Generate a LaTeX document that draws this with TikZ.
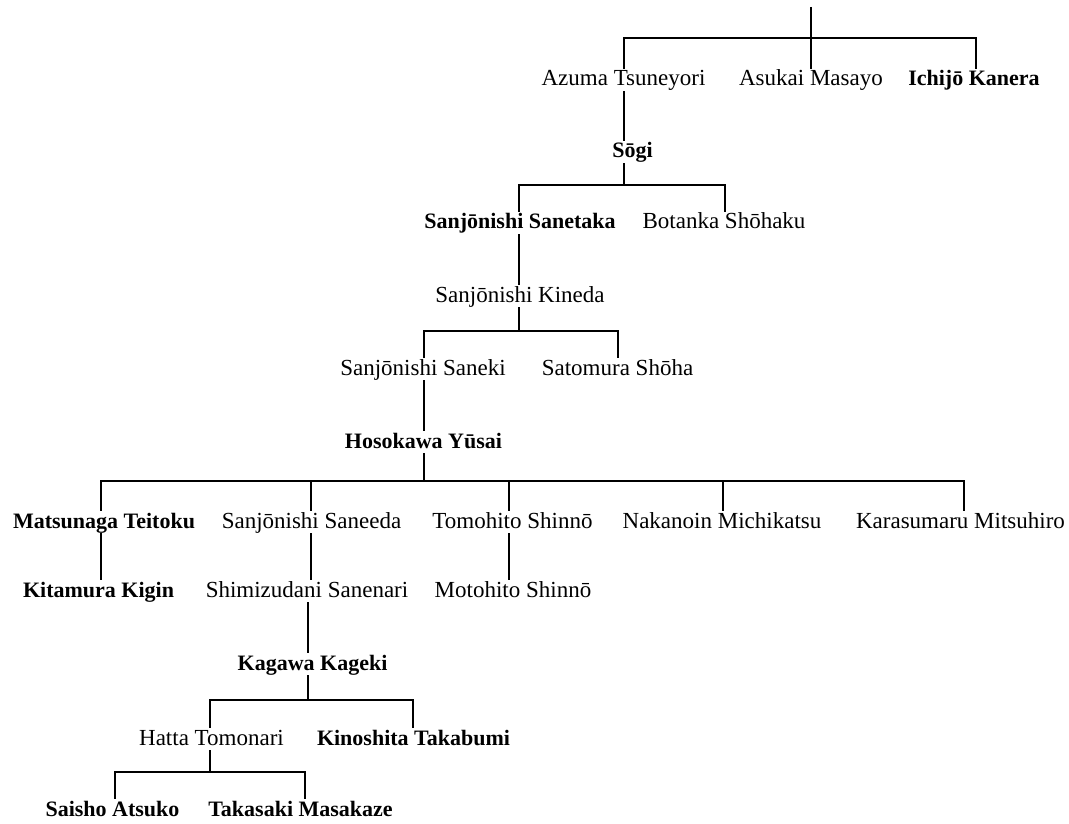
\documentclass[tikz,border=0pt]{standalone}
\usepackage{fontspec}
\setmainfont{Liberation Serif}
\begin{document}
\begin{tikzpicture}[x=1pt,y=-1pt,
  person/.style={anchor=base, inner sep=0pt, text height=17pt, text depth=5pt,
                 font=\fontsize{23}{23}\selectfont},
  poet/.style={person, font=\fontsize{22}{22}\selectfont\bfseries},
  link/.style={line width=2pt, line join=miter}]
\useasboundingbox (0,0) rectangle (1069,824);
% bars (y levels)
\coordinate (bar1) at (0,38);
\coordinate (bar2) at (0,185);
\coordinate (bar3) at (0,331);
\coordinate (bar4) at (0,481);
\coordinate (bar5) at (0,700);
\coordinate (bar6) at (0,772);
% columns (x of vertical lines)
\coordinate (cA) at (624,0);
\coordinate (cB) at (811,0);
\coordinate (cC) at (976,0);
\coordinate (cD) at (519,0);
\coordinate (cE) at (725,0);
\coordinate (cF) at (424,0);
\coordinate (cG) at (618,0);
\coordinate (cH) at (101,0);
\coordinate (cI) at (311,0);
\coordinate (cI2) at (308,0);
\coordinate (cJ) at (509,0);
\coordinate (cK) at (723,0);
\coordinate (cL) at (964,0);
\coordinate (cM) at (210,0);
\coordinate (cN) at (413,0);
\coordinate (cO) at (115,0);
\coordinate (cP) at (305,0);
\coordinate (root) at (811,7);
% people
\node[person] (azuma)      at (623.5,86)  {Azuma Tsuneyori};
\node[person] (asukai)     at (811,86)    {Asukai Masayo};
\node[poet]   (ichijo)     at (974,86)    {Ichijō Kanera};
\node[poet]   (sogi)       at (632.5,158) {Sōgi};
\node[poet]   (sanetaka)   at (520,229)   {Sanjōnishi Sanetaka};
\node[person] (botanka)    at (724,229)   {Botanka Shōhaku};
\node[person] (kineda)     at (520,302)   {Sanjōnishi Kineda};
\node[person] (saneki)     at (423,375)   {Sanjōnishi Saneki};
\node[person] (satomura)   at (617.5,375) {Satomura Shōha};
\node[poet]   (yusai)      at (423.5,448) {Hosokawa Yūsai};
\node[poet]   (matsunaga)  at (104,528)   {Matsunaga Teitoku};
\node[person] (saneeda)    at (311.5,528) {Sanjōnishi Saneeda};
\node[person] (tomohito)   at (512.5,528) {Tomohito Shinnō};
\node[person] (nakanoin)   at (722,528)   {Nakanoin Michikatsu};
\node[person] (karasumaru) at (960.5,528) {Karasumaru Mitsuhiro};
\node[poet]   (kitamura)   at (98.5,597)  {Kitamura Kigin};
\node[person] (shimizudani) at (307,597)  {Shimizudani Sanenari};
\node[person] (motohito)   at (513,597)   {Motohito Shinnō};
\node[poet]   (kagawa)     at (312.5,670) {Kagawa Kageki};
\node[person] (hatta)      at (211.5,745) {Hatta Tomonari};
\node[poet]   (kinoshita)  at (413.5,745) {Kinoshita Takabumi};
\node[poet]   (saisho)     at (112.5,816) {Saisho Atsuko};
\node[poet]   (takasaki)   at (300.5,816) {Takasaki Masakaze};
% connectors
\draw[link] (root) -- (root |- bar1);
\draw[link] (azuma.north -| cA) -- (cA |- bar1) -- (cC |- bar1) -- (ichijo.north -| cC);
\draw[link] (asukai.north -| cB) -- (cB |- bar1);
\draw[link] (azuma.south -| cA) -- (sogi.north -| cA);
\draw[link] (sogi.south -| cA) -- (cA |- bar2);
\draw[link] (sanetaka.north -| cD) -- (cD |- bar2) -- (cE |- bar2) -- (botanka.north -| cE);
\draw[link] (sanetaka.south -| cD) -- (kineda.north -| cD);
\draw[link] (kineda.south -| cD) -- (cD |- bar3);
\draw[link] (saneki.north -| cF) -- (cF |- bar3) -- (cG |- bar3) -- (satomura.north -| cG);
\draw[link] (saneki.south -| cF) -- (yusai.north -| cF);
\draw[link] (yusai.south -| cF) -- (cF |- bar4);
\draw[link] (matsunaga.north -| cH) -- (cH |- bar4) -- (cL |- bar4) -- (karasumaru.north -| cL);
\draw[link] (saneeda.north -| cI) -- (cI |- bar4);
\draw[link] (tomohito.north -| cJ) -- (cJ |- bar4);
\draw[link] (nakanoin.north -| cK) -- (cK |- bar4);
\draw[link] (matsunaga.south -| cH) -- (kitamura.north -| cH);
\draw[link] (saneeda.south -| cI) -- (shimizudani.north -| cI);
\draw[link] (tomohito.south -| cJ) -- (motohito.north -| cJ);
\draw[link] (shimizudani.south -| cI2) -- (kagawa.north -| cI2);
\draw[link] (kagawa.south -| cI2) -- (cI2 |- bar5);
\draw[link] (hatta.north -| cM) -- (cM |- bar5) -- (cN |- bar5) -- (kinoshita.north -| cN);
\draw[link] (hatta.south -| cM) -- (cM |- bar6);
\draw[link] (saisho.north -| cO) -- (cO |- bar6) -- (cP |- bar6) -- (takasaki.north -| cP);
\end{tikzpicture}
\end{document}
